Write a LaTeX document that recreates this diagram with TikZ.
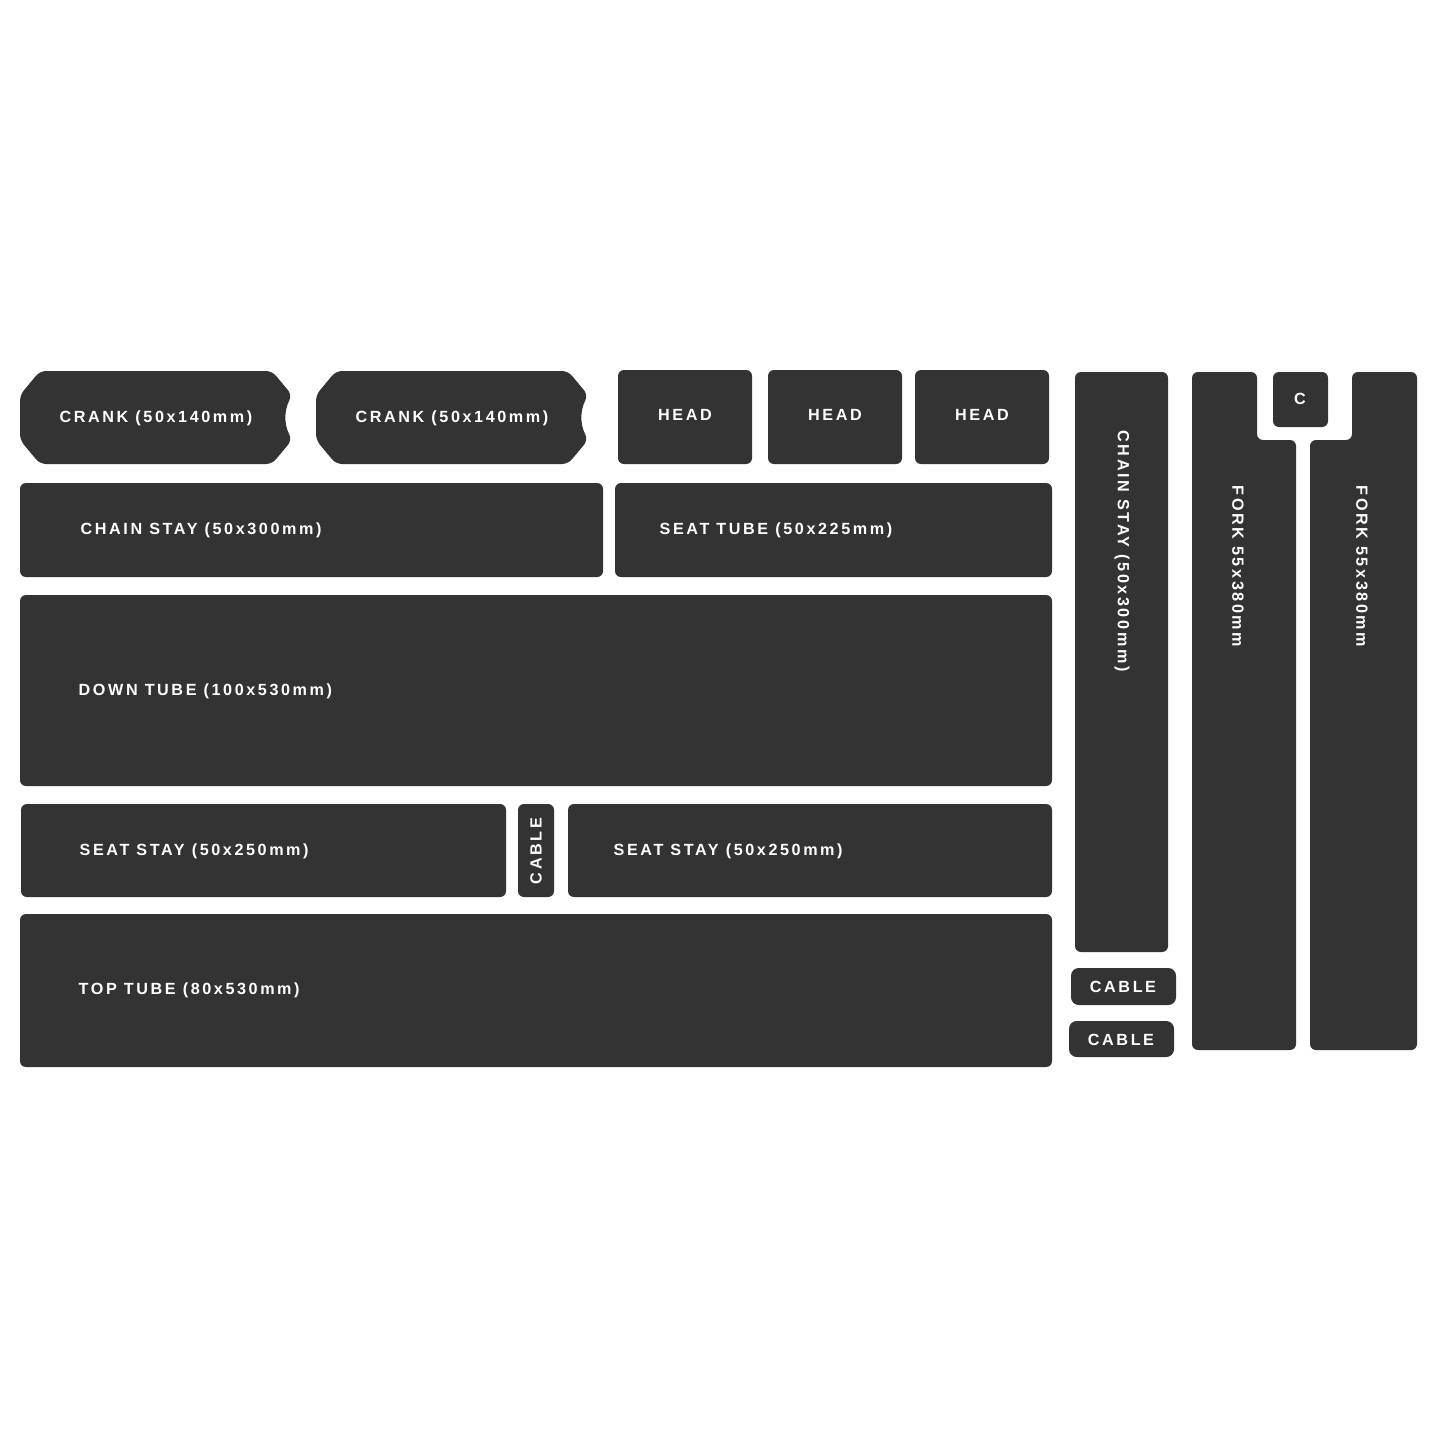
\documentclass[tikz,border=0pt]{standalone}
\usepackage{fontspec}
\setmainfont{Liberation Sans}
\newfontfamily\decalfont[LetterSpace=16]{Liberation Sans}
\definecolor{decal}{HTML}{333333}
\tikzset{
    piece/.style={fill=decal, rounded corners=1.7pt},
    decaltext/.style={text=white, inner sep=0pt, font=\decalfont\fontsize{4.6}{5}\selectfont\bfseries}
}
\begin{document}
\begin{tikzpicture}[x=0.01cm, y=-0.01cm]
    \useasboundingbox[fill=white] (0,0) rectangle (1445,1445);

    % Manivelles
    \foreach \cx/\nm in {20/crankA, 316/crankB} {
        \begin{scope}[shift={(\cx,371)}]
            \fill[piece] (20,0) -- (252,0) -- (272,24)
                .. controls (264,40) and (264,53) .. (272,69)
                -- (252,93) -- (20,93) -- (0,69) -- (0,24) -- cycle;
            \node[decaltext] (\nm) at (136,47) {CRANK (50x140mm)};
        \end{scope}
    }

    % Douilles de direction
    \foreach \hx/\nm in {618/headA, 768/headB, 915/headC} {
        \fill[piece] (\hx,370) rectangle ++(134,94);
        \node[decaltext] (\nm) at (\hx+67,415) {HEAD};
    }

    % Bandes horizontales
    \fill[piece] (20,483) rectangle (603,577);
    \node[decaltext, anchor=west] (chainstayA) at (80,530) {CHAIN STAY (50x300mm)};
    \fill[piece] (615,483) rectangle (1052,577);
    \node[decaltext, anchor=west] (seattube) at (659,530) {SEAT TUBE (50x225mm)};

    \fill[piece] (20,595) rectangle (1052,786);
    \node[decaltext, anchor=west] (downtube) at (78,691) {DOWN TUBE (100x530mm)};

    \fill[piece] (21,804) rectangle (506,897);
    \node[decaltext, anchor=west] (seatstayA) at (79,851) {SEAT STAY (50x250mm)};
    \fill[piece] (518,804) rectangle (554,897);
    \node[decaltext, rotate=90] (cableA) at (536,851) {CABLE};
    \fill[piece] (568,804) rectangle (1052,897);
    \node[decaltext, anchor=west] (seatstayB) at (613,851) {SEAT STAY (50x250mm)};

    \fill[piece] (20,914) rectangle (1052,1067);
    \node[decaltext, anchor=west] (toptube) at (78,990) {TOP TUBE (80x530mm)};

    % Bandes verticales
    \fill[piece] (1075,372) rectangle (1168,952);
    \node[decaltext, rotate=-90, anchor=west] (chainstayB) at (1122,430) {CHAIN STAY (50x300mm)};
    \fill[piece, rounded corners=2.2pt] (1071,968) rectangle (1176,1005);
    \node[decaltext] (cableB) at (1123,987) {CABLE};
    \fill[piece, rounded corners=2.2pt] (1069,1021) rectangle (1174,1057);
    \node[decaltext] (cableC) at (1121,1040) {CABLE};

    % Fourche
    \fill[piece] (1192,372) -- (1257,372) -- (1257,440) -- (1296,440)
        -- (1296,1050) -- (1192,1050) -- cycle;
    \node[decaltext, rotate=-90, anchor=west] (forkA) at (1238,485) {FORK 55x380mm};
    \fill[piece] (1352,372) -- (1417,372) -- (1417,1050) -- (1310,1050)
        -- (1310,440) -- (1352,440) -- cycle;
    \node[decaltext, rotate=-90, anchor=west] (forkB) at (1362,485) {FORK 55x380mm};
    \fill[piece] (1273,372) rectangle (1328,427);
    \node[decaltext] (cap) at (1300,399) {C};
\end{tikzpicture}
\end{document}
